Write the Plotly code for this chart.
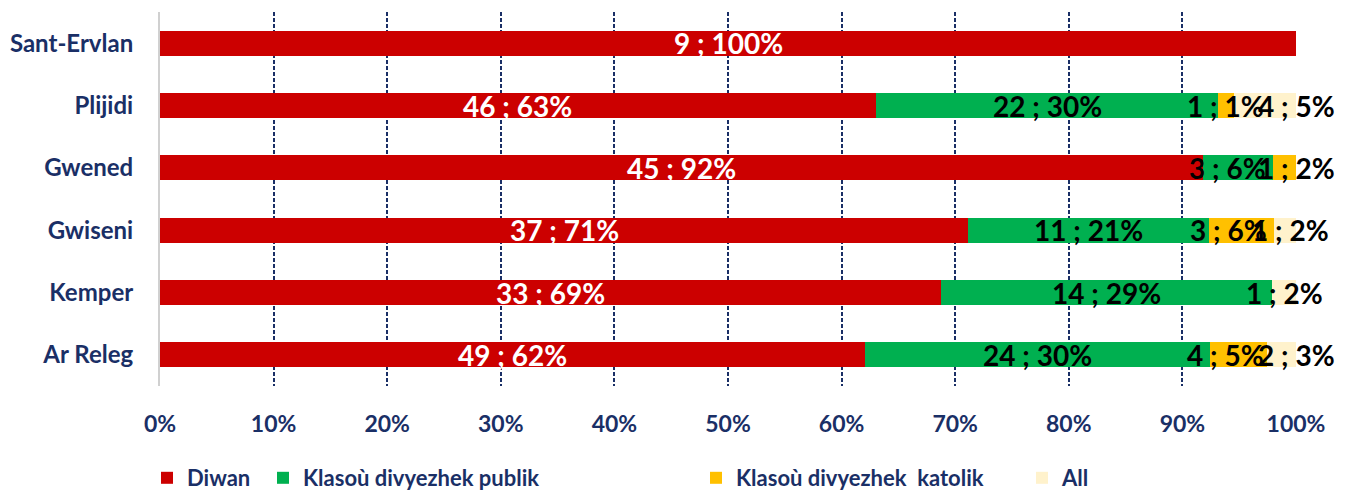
import plotly.graph_objects as go

categories = ["Sant-Ervlan", "Plijidi", "Gwened", "Gwiseni", "Kemper", "Ar Releg"]
series_names = ["Diwan", "Klasoù divyezhek publik", "Klasoù divyezhek\u00a0 katolik", "All"]
diwan = [9, 46, 45, 37, 33, 49]
publik = [0, 22, 3, 11, 14, 24]
katolik = [0, 1, 1, 3, 0, 4]
all_ = [0, 4, 0, 1, 1, 2]
diwan_pct = [100, 63, 92, 71, 69, 62]
publik_pct = [0, 30, 6, 21, 29, 30]
katolik_pct = [0, 1, 2, 6, 0, 5]
all_pct = [0, 5, 0, 2, 2, 3]
tick_vals = [0, 10, 20, 30, 40, 50, 60, 70, 80, 90, 100]
tick_text = [f"{v}%" for v in tick_vals]

colors = ["#CC0000", "#00B050", "#FFC000", "#FFF2CC"]
text_colors = ["white", "black", "black", "black"]
values = [diwan, publik, katolik, all_]
pcts = [diwan_pct, publik_pct, katolik_pct, all_pct]
NAVY = "#1A2F66"
FONT = "Lato"
W, H = 1351, 493
legend_text_x = [187, 303, 736, 1062]
# small pixel nudges of crowded data labels (row, series) -> px, as in the original layout
label_nudge = {(1, 3): 32, (2, 1): -11, (2, 2): 12, (3, 2): -13, (3, 3): 5,
               (5, 2): -13, (5, 3): 15}

fig = go.Figure()
totals = [sum(v[i] for v in values) for i in range(len(categories))]
cum = [0.0] * len(categories)
annotations = []
for k, (name, vals, pc, col, tc) in enumerate(zip(series_names, values, pcts, colors, text_colors)):
    lg = "legend" if k == 0 else f"legend{k+1}"
    fig.add_trace(go.Bar(
        y=categories, x=vals, name=name, orientation="h",
        marker=dict(color=col, line=dict(width=0)),
        legend=lg, hoverinfo="skip",
    ))
    for i, (cat, v, p) in enumerate(zip(categories, vals, pc)):
        share = 100.0 * v / totals[i]
        if v > 0:
            annotations.append(dict(
                x=cum[i] + share / 2, y=cat, xref="x", yref="y",
                text=f"{v} ; {p}%", showarrow=False,
                xanchor="center", yanchor="middle",
                xshift=label_nudge.get((i, k), 0),
                font=dict(family=FONT, size=28, color=tc, weight="bold"),
            ))
        cum[i] += share

legends = {}
for k in range(4):
    key = "legend" if k == 0 else f"legend{k+1}"
    legends[key] = dict(
        orientation="h", xref="container", yref="container",
        x=(legend_text_x[k] - 40) / W, xanchor="left",
        y=(H - 478) / H, yanchor="middle",
        font=dict(family=FONT, size=22, color=NAVY, weight="bold"),
        itemwidth=30, bgcolor="rgba(0,0,0,0)",
    )

fig.update_layout(
    barmode="stack", barnorm="percent", bargap=0.6,
    width=W, height=H,
    margin=dict(l=160, r=55, t=12, b=107),
    paper_bgcolor="white", plot_bgcolor="white",
    font=dict(family=FONT, color=NAVY),
    showlegend=True,
    annotations=annotations,
    xaxis=dict(range=[0, 100], tickvals=tick_vals, ticktext=tick_text,
               showgrid=True, gridcolor=NAVY, griddash="4px,2px", gridwidth=2,
               zeroline=False, showline=False, ticks="", ticklabelstandoff=22,
               automargin=False,
               tickfont=dict(family=FONT, size=23, color=NAVY, weight="bold")),
    yaxis=dict(autorange="reversed", showgrid=False, zeroline=False,
               showline=True, linecolor="#D0D0D0", linewidth=2, ticks="",
               ticklabelstandoff=20, automargin=False,
               tickfont=dict(family=FONT, size=24, color=NAVY, weight="bold")),
    **legends,
)
fig.write_html("out.html", config={"displayModeBar": False},
               post_script="document.body.style.margin='0';document.body.style.overflow='hidden';")
